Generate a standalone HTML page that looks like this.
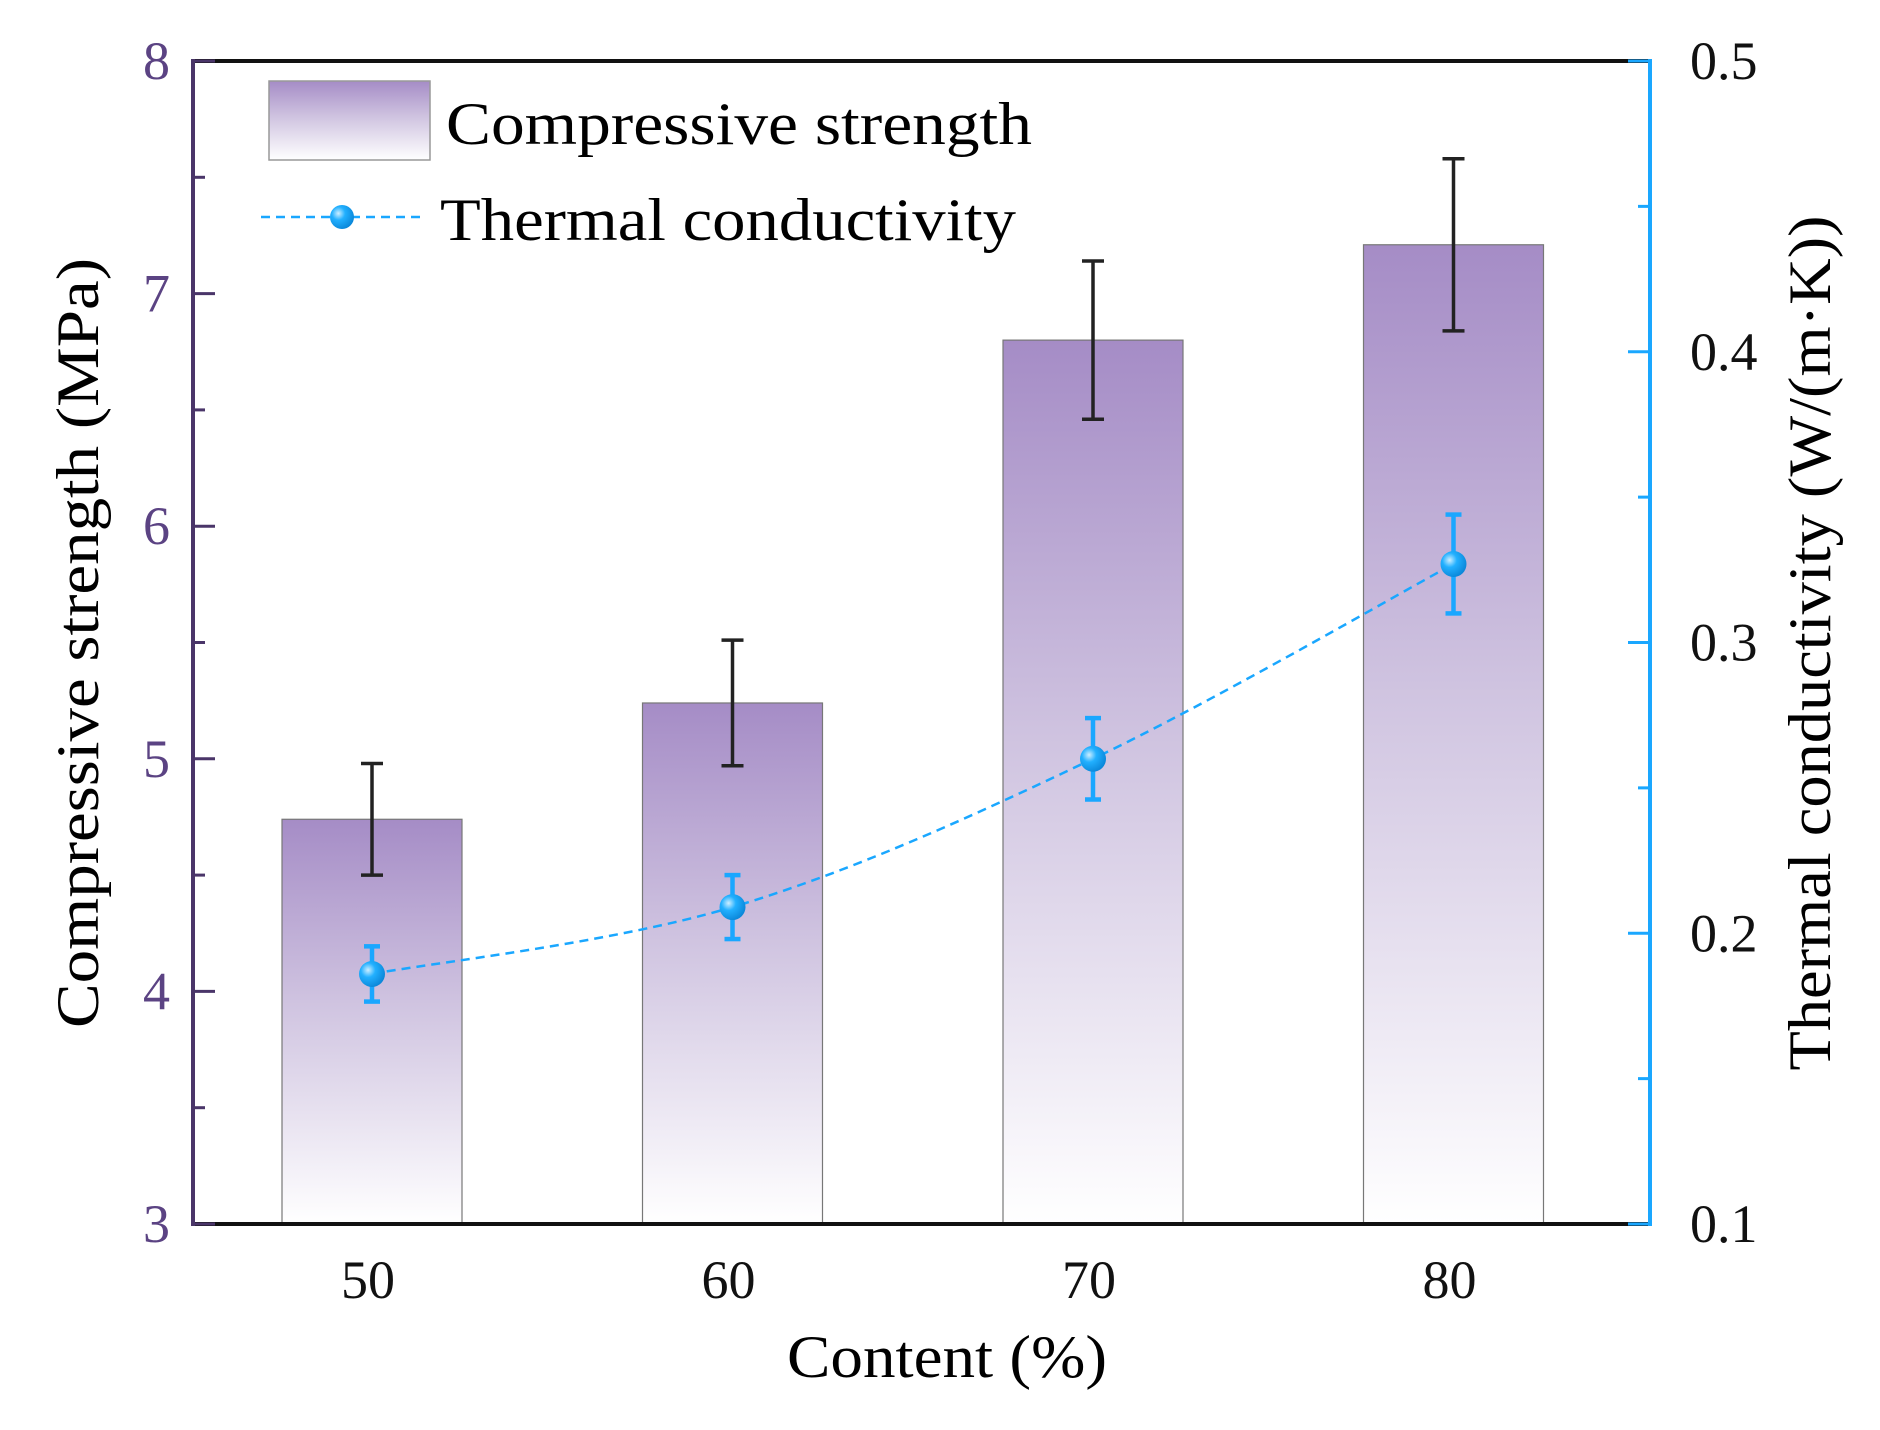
<!DOCTYPE html>
<html><head><meta charset="utf-8"><style>
html,body{margin:0;padding:0;background:#fff;}
svg{display:block;font-family:"Liberation Serif",serif;}
</style></head><body>
<svg id="chart" width="1880" height="1430">
<defs>
<linearGradient id="barGrad" x1="0" y1="0" x2="0" y2="1">
<stop offset="0" stop-color="#a58cc6"/><stop offset="0.45" stop-color="#cfc3e0"/><stop offset="1" stop-color="#ffffff"/>
</linearGradient>
<radialGradient id="dotGrad" cx="0.35" cy="0.35" r="0.7">
<stop offset="0" stop-color="#cdeeff"/><stop offset="0.4" stop-color="#22b0ff"/><stop offset="1" stop-color="#0a86d8"/>
</radialGradient>
</defs>
<g id="bars"></g>
<g id="series"></g>
<g id="axes"></g>
<g>
<rect x="269" y="81" width="161" height="79" fill="url(#barGrad)" stroke="#999" stroke-width="1.5"/>
<text x="446" y="144" font-size="60" textLength="586" lengthAdjust="spacingAndGlyphs">Compressive strength</text>
<line x1="261" y1="217" x2="424" y2="217" stroke="#1aa7ff" stroke-width="2.5" stroke-dasharray="9,6"/>
<circle cx="342" cy="217" r="12" fill="url(#dotGrad)"/>
<text x="440" y="240" font-size="60" textLength="576" lengthAdjust="spacingAndGlyphs">Thermal conductivity</text>
</g>
<text x="947" y="1377" font-size="60" text-anchor="middle" textLength="320" lengthAdjust="spacingAndGlyphs">Content (%)</text>
<text transform="translate(98,643) rotate(-90)" font-size="60" text-anchor="middle" textLength="770" lengthAdjust="spacingAndGlyphs">Compressive strength (MPa)</text>
<text transform="translate(1830,643) rotate(-90)" font-size="60" text-anchor="middle" textLength="855" lengthAdjust="spacingAndGlyphs">Thermal conductivity (W/(m·K))</text>
</svg>
<script>
const categories = [50, 60, 70, 80];
const strength = [4.74, 5.24, 6.80, 7.21];
const strengthErr = [0.24, 0.27, 0.34, 0.37];
const thermal = [0.186, 0.209, 0.260, 0.327];
const thermalErr = [0.0095, 0.011, 0.014, 0.017];
const leftTicks = [3, 4, 5, 6, 7, 8];
const rightTicks = [0.1, 0.2, 0.3, 0.4, 0.5];

const L = 193, R = 1650, T = 61, B = 1224;
const NS = 'http://www.w3.org/2000/svg';
const xS = v => 372 + (v - 50) * 36.05;
const yL = v => B - (v - 3) / 5 * (B - T);
const yR = v => B - (v - 0.1) / 0.4 * (B - T);
function mk(tag, attrs, parent) {
  const e = document.createElementNS(NS, tag);
  for (const k in attrs) e.setAttribute(k, attrs[k]);
  parent.appendChild(e);
  return e;
}
const gb = document.getElementById('bars');
const gs = document.getElementById('series');
const ga = document.getElementById('axes');
const bw = 180;
categories.forEach((c, i) => {
  const x = xS(c);
  const r = mk('rect', {x: x - bw/2, y: yL(strength[i]), width: bw, height: B - yL(strength[i]), fill: 'url(#barGrad)', stroke: '#777', 'stroke-width': 1.2}, gb);
  
  
  const g = mk('g', {stroke: '#222', 'stroke-width': 3.5}, gb);
  
  
  const y1 = yL(strength[i] + strengthErr[i]), y2 = yL(strength[i] - strengthErr[i]);
  mk('line', {x1: x, y1: y1, x2: x, y2: y2}, g);
  mk('line', {x1: x - 11, y1: y1, x2: x + 11, y2: y1}, g);
  mk('line', {x1: x - 11, y1: y2, x2: x + 11, y2: y2}, g);
});
const pts = categories.map((c, i) => [xS(c), yR(thermal[i])]);
let d = 'M' + pts[0][0] + ',' + pts[0][1];
for (let i = 0; i < pts.length - 1; i++) {
  const p0 = pts[Math.max(0, i - 1)], p1 = pts[i], p2 = pts[i + 1], p3 = pts[Math.min(pts.length - 1, i + 2)];
  const c1 = [p1[0] + (p2[0] - p0[0]) / 6, p1[1] + (p2[1] - p0[1]) / 6];
  const c2 = [p2[0] - (p3[0] - p1[0]) / 6, p2[1] - (p3[1] - p1[1]) / 6];
  d += ' C' + c1 + ' ' + c2 + ' ' + p2;
}
const line = mk('path', {d: d, fill: 'none', stroke: '#1aa7ff', 'stroke-width': 2.5, 'stroke-dasharray': '9,6'}, gs);


categories.forEach((c, i) => {
  const x = xS(c);
  const g = mk('g', {stroke: '#1aa7ff', 'stroke-width': 4.5}, gs);
  
  
  const y1 = yR(thermal[i] + thermalErr[i]), y2 = yR(thermal[i] - thermalErr[i]);
  mk('line', {x1: x, y1: y1, x2: x, y2: y2}, g);
  mk('line', {x1: x - 8, y1: y1, x2: x + 8, y2: y1}, g);
  mk('line', {x1: x - 8, y1: y2, x2: x + 8, y2: y2}, g);
  const p = mk('circle', {cx: x, cy: yR(thermal[i]), r: 13, fill: 'url(#dotGrad)'}, gs);
  
  
  const t = mk('text', {x: x - 4, y: 1298, 'font-size': 54, 'text-anchor': 'middle', fill: '#111'}, ga);
  t.textContent = c;
  
  
});
mk('line', {x1: L, y1: T, x2: R, y2: T, stroke: '#111', 'stroke-width': 4}, ga);
mk('line', {x1: L, y1: B, x2: R, y2: B, stroke: '#111', 'stroke-width': 4}, ga);
mk('line', {x1: L, y1: T - 2, x2: L, y2: B + 2, stroke: '#4a3569', 'stroke-width': 4}, ga);
mk('line', {x1: R, y1: T - 2, x2: R, y2: B + 2, stroke: '#1aa7ff', 'stroke-width': 4}, ga);
for (let v = 3; v <= 8.001; v += 0.5) {
  const major = Math.abs(v - Math.round(v)) < 0.01;
  mk('line', {x1: L, y1: yL(v), x2: L + (major ? 22 : 12), y2: yL(v), stroke: '#4a3569', 'stroke-width': 3}, ga);
}
leftTicks.forEach(v => {
  const t = mk('text', {x: 170, y: yL(v) + 18, 'font-size': 54, 'text-anchor': 'end', fill: '#5b4383'}, ga);
  t.textContent = v;
  
  
});
for (let k = 0; k <= 8; k++) {
  const v = 0.1 + k * 0.05;
  const major = k % 2 === 0;
  mk('line', {x1: R, y1: yR(v), x2: R - (major ? 22 : 12), y2: yR(v), stroke: '#1aa7ff', 'stroke-width': 3}, ga);
}
rightTicks.forEach(v => {
  const t = mk('text', {x: 1690, y: yR(v) + 18, 'font-size': 54, fill: '#111'}, ga);
  t.textContent = v;
  
  
});
</script>
</body></html>
